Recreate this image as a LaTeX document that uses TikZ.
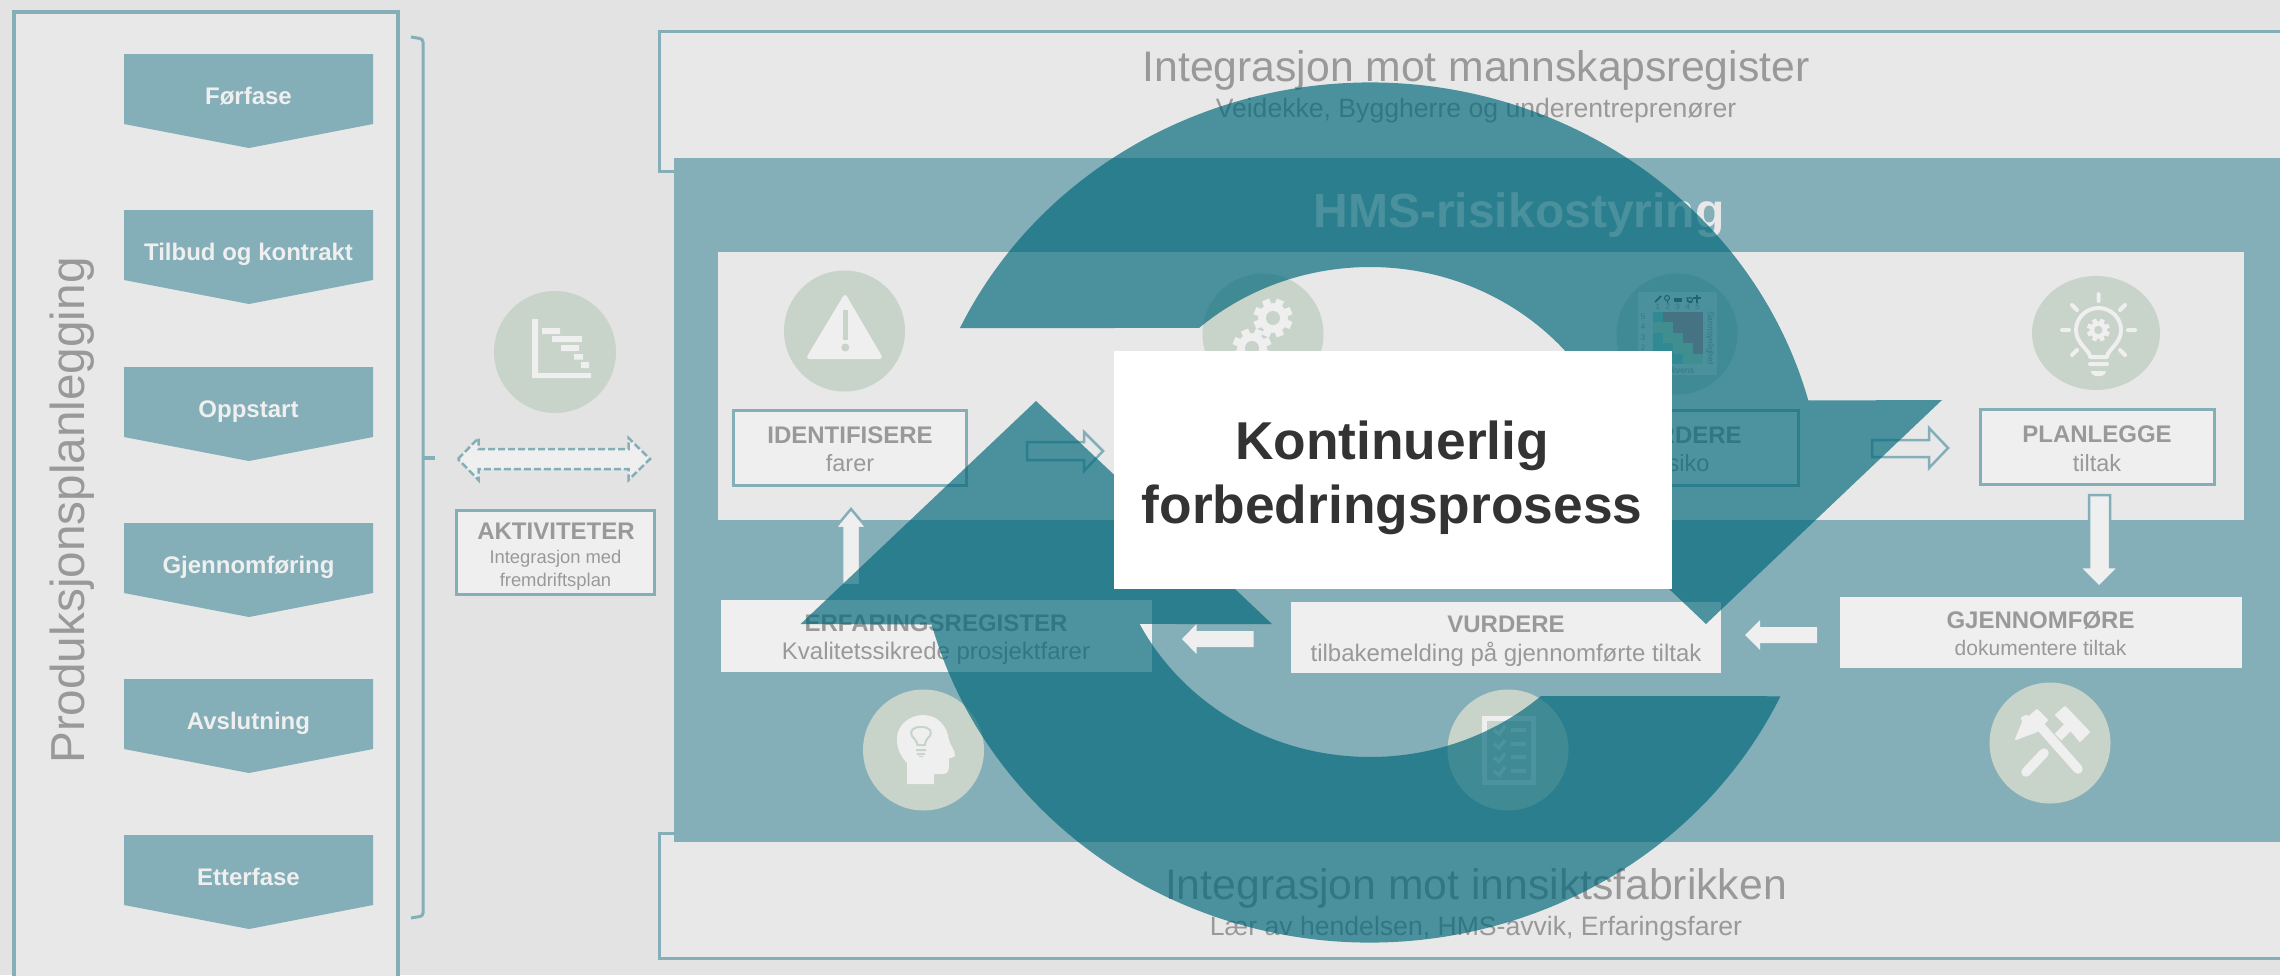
\documentclass[tikz,border=0pt]{standalone}
\usepackage{fontspec}
\setmainfont{Liberation Sans}
\definecolor{bgc}{HTML}{E3E3E3}
\definecolor{panelc}{HTML}{E8E8E8}
\definecolor{tealc}{HTML}{84AEB8}
\definecolor{iconc}{HTML}{C8D3CA}
\definecolor{lightc}{HTML}{EFEFEF}
\definecolor{greyt}{HTML}{999999}
\definecolor{darkt}{HTML}{333333}
\definecolor{cyclec}{HTML}{00687A}
\definecolor{mred}{HTML}{D88C9C}
\definecolor{myel}{HTML}{C8DFC0}
\definecolor{mgrn}{HTML}{96D0C8}
\newcommand\fs[1]{\fontsize{#1}{#1}\selectfont}
\newcommand\gearicon[4]{%
  \fill[lightc] (#1,#2) circle[radius=#3*0.76pt];
  \foreach \a in {0,45,...,315}{%
    \fill[lightc,rotate around={\a+22.5:(#1,#2)}] ({#1-0.2*#3},{#2}) rectangle ({#1+0.2*#3},{#2-#3});}
  \fill[#4] (#1,#2) circle[radius=#3*0.36pt];}
\tikzset{
  x=1pt,y=-1pt,
  tx/.style={anchor=base,inner sep=0pt,text=greyt},
  chev/.style={anchor=base,inner sep=0pt,text=lightc,font=\fs{24}\bfseries},
  outl/.style={draw=tealc,line width=3.5pt},
  hicon/.style={fill=iconc},
  cyc/.style={fill=cyclec,opacity=0.68},
  barrow/.style={fill=lightc,draw=tealc,line width=2.5pt,line join=miter},
  wline/.style={draw=lightc,line width=4pt,line cap=round,line join=round},
}
\begin{document}
\begin{tikzpicture}
\clip (0,0) rectangle (2280,975);
\fill[bgc] (0,0) rectangle (2280,975);

% left panel
\filldraw[panelc,outl] (14,12) rectangle (398,990);
\node[tx,rotate=90,anchor=base west,font=\fs{47.7}] (prod) at (84,764) {Produksjonsplanlegging};

% chevrons
\foreach \n/\y/\t in {1/54/Førfase,2/210/Tilbud og kontrakt,3/367/Oppstart,4/523/Gjennomføring,5/679/Avslutning,6/835/Etterfase}{%
  \fill[tealc] (124,\y) -- (373,\y) -- (373,\y+70) -- (249,\y+94) -- (124,\y+70) -- cycle;
  \node[chev] (ch\n) at (248.5,\y+50.5) {\t};
}

% bracket
\draw[tealc,line width=3pt,rounded corners=3pt] (411,37) -- (423,39) -- (423,916) -- (411,918);
\draw[tealc,line width=4pt] (423,458) -- (435,458);

% gantt icon
\fill[hicon] (555,352) circle[radius=61pt];
\fill[lightc] (532,319) rectangle (538,378) (532,373) rectangle (591,378);
\fill[lightc] (542,328) rectangle (560,334) (552,336) rectangle (582,342) (561,345) rectangle (579,351)
  (574,354) rectangle (583,359.5) (581,362) rectangle (589,368);

% dashed double arrow
\path[fill=lightc,draw=tealc,line width=2.5pt,dash pattern=on 7pt off 3pt]
  (458,459) -- (478.5,438) -- (478.5,449) -- (628.5,449) -- (628.5,438) -- (650,459)
  -- (628.5,480) -- (628.5,469) -- (478.5,469) -- (478.5,480) -- cycle;

% aktiviteter
\filldraw[fill=lightc,draw=tealc,line width=3pt] (456.5,510.5) rectangle (654.5,594.5);
\node[tx,font=\fs{24}\bfseries] (akt) at (556,539) {AKTIVITETER};
\node[tx,font=\fs{18.4}] (akt1) at (555.5,563) {Integrasjon med};
\node[tx,font=\fs{18.4}] (akt2) at (555.5,586) {fremdriftsplan};

% top and bottom integration boxes
\filldraw[panelc,outl] (659.5,31.5) rectangle (2300,171.5);
\filldraw[panelc,outl] (659.5,833.5) rectangle (2300,958.5);
\node[tx,font=\fs{42.7}] (t1) at (1476,81) {Integrasjon mot mannskapsregister};
\node[tx,font=\fs{26.6}] (t1s) at (1476,117) {Veidekke, Byggherre og underentreprenører};

% HMS block
\fill[tealc] (674,158) rectangle (2290,842);
\node[tx,font=\fs{42.7}] (t2) at (1476,899) {Integrasjon mot innsiktsfabrikken};
\node[tx,font=\fs{26.6}] (t2s) at (1476,935) {Lær av hendelsen, HMS-avvik, Erfaringsfarer};
\node[tx,text=panelc,font=\fs{48}\bfseries] (hms) at (1519,227) {HMS-risikostyring};
\fill[panelc] (718,252) rectangle (2244,520);

% warning icon
\fill[hicon] (844.5,331) circle[radius=60.5pt];
\filldraw[lightc,line width=4pt,line join=round] (845,297) -- (880,357) -- (809,357) -- cycle;
\fill[iconc] (842.8,310) rectangle (848,340);
\fill[iconc] (845.3,347.5) circle[radius=4pt];

% gears icon
\fill[hicon] (1263,334) circle[radius=60.5pt];
\gearicon{1273}{318}{19.5}{iconc}
\gearicon{1252}{348}{19.5}{iconc}

% risk matrix icon
\fill[hicon] (1677,334) circle[radius=60.5pt];
\fill[panelc] (1638,292) rectangle (1717,375);
\foreach \c/\r/\k in {0/0/mgrn,1/0/mred,2/0/mred,3/0/mred,4/0/mred,
                      0/1/myel,1/1/myel,2/1/mred,3/1/mred,4/1/mred,
                      0/2/mgrn,1/2/myel,2/2/myel,3/2/mred,4/2/mred,
                      0/3/mgrn,1/3/mgrn,2/3/myel,3/3/myel,4/3/mred,
                      0/4/mgrn,1/4/mgrn,2/4/mgrn,3/4/myel,4/4/myel}{%
  \fill[\k] ({1653+9.9*\c},{312+10.4*\r}) rectangle ({1653+9.9*(\c+1)},{312+10.4*(\r+1)});
}
\foreach \i in {1,...,5}{%
  \node[tx,anchor=center,text=darkt!50,font=\fs{8}] (mc\i) at ({1648+9.9*\i},307) {\i};
  \node[tx,anchor=center,text=darkt!50,font=\fs{8}] (mr\i) at (1643,{368-10.2*\i}) {\i};
}
\draw[darkt!80,line width=1.8pt] (1655,302) -- (1661,296);
\draw[darkt!80,line width=1pt] (1667,298) circle[radius=2.5pt] (1667,300) -- (1668,303);
\fill[darkt!80] (1674,298) rectangle (1682,302);
\draw[darkt!80,line width=1pt] (1687,297) -- (1687,301) -- (1691,301) -- (1692,303) (1690,300) circle[radius=2.5pt];
\draw[darkt!80,line width=1.2pt] (1697,295) -- (1697,303) (1693,298) -- (1701,298);
\node[tx,anchor=center,rotate=-90,text=darkt!50,font=\fs{8.5}] (msan) at (1710,338) {Sannsynlighet};
\node[tx,anchor=center,text=darkt!50,font=\fs{8.5}] (mkon) at (1671,370) {Konsekvens};

% idea icon
\fill[hicon] (2096,333) ellipse[x radius=64pt,y radius=57pt];
\draw[wline] (2090,357) .. controls (2090,350) and (2076,344) .. (2076,330)
  .. controls (2076,318) and (2086,308) .. (2098.5,308)
  .. controls (2111,308) and (2121,318) .. (2121,330)
  .. controls (2121,344) and (2107,350) .. (2107,357) -- cycle;
\gearicon{2098.3}{330}{11.5}{iconc}
\draw[wline] (2098.5,294) -- (2098.5,301) (2072,305) -- (2077,310) (2125,305) -- (2120,310)
  (2062,330) -- (2069,330) (2128,330) -- (2135,330) (2072,355) -- (2077,350) (2125,355) -- (2120,350)
  (2090,364) -- (2107,364);
\fill[lightc] (2091,371) .. controls (2091,378) and (2106,378) .. (2106,371) -- cycle;

% process boxes in light panel
\filldraw[fill=lightc,draw=tealc,line width=3pt] (733.5,410.5) rectangle (966.5,485);
\node[tx,font=\fs{24}\bfseries] (idt) at (850,443) {IDENTIFISERE};
\node[tx,font=\fs{23.5}] (ids) at (850,471) {farer};
\filldraw[fill=lightc,draw=tealc,line width=3pt] (1565.5,410.5) rectangle (1798.5,485);
\node[tx,font=\fs{24}\bfseries] (vrt) at (1683,443) {VURDERE};
\node[tx,font=\fs{23.5}] (vrs) at (1682,471) {risiko};
\filldraw[fill=lightc,draw=tealc,line width=3pt] (1980.5,409.5) rectangle (2214.5,484.5);
\node[tx,font=\fs{24}\bfseries] (plt) at (2097,442) {PLANLEGGE};
\node[tx,font=\fs{23.5}] (pls) at (2097,471) {tiltak};

% box arrows
\path[barrow,fill=panelc] (1027,442) -- (1084,442) -- (1084,432) -- (1103,451) -- (1084,471) -- (1084,460) -- (1027,460) -- cycle;
\path[barrow,fill=panelc] (1872,440) -- (1929,440) -- (1929,428) -- (1948,448) -- (1929,468) -- (1929,457) -- (1872,457) -- cycle;
\path[barrow] (2089,495) -- (2110,495) -- (2110,567) -- (2119,567) -- (2099,587) -- (2079,567) -- (2089,567) -- cycle;
\path[barrow] (842,585) -- (842,528) -- (835,528) -- (851,509) -- (867,528) -- (860,528) -- (860,585) -- cycle;
\fill[lightc] (1817,627) -- (1760,627) -- (1760,620) -- (1745,635) -- (1760,650) -- (1760,643) -- (1817,643) -- cycle;
\fill[lightc] (1253.5,631) -- (1196.5,631) -- (1196.5,624) -- (1182,639) -- (1196.5,654) -- (1196.5,647) -- (1253.5,647) -- cycle;

% lower boxes
\fill[lightc] (1840,597) rectangle (2242,668);
\node[tx,font=\fs{24}\bfseries] (gjt) at (2040.5,628) {GJENNOMFØRE};
\node[tx,font=\fs{21}] (gjs) at (2040.5,655) {dokumentere tiltak};
\fill[lightc] (1291,602) rectangle (1721,673);
\node[tx,font=\fs{24}\bfseries] (vut) at (1506,632) {VURDERE};
\node[tx,font=\fs{24}] (vus) at (1506,661) {tilbakemelding på gjennomførte tiltak};
\fill[lightc] (721,600) rectangle (1151.5,672);
\node[tx,font=\fs{24}\bfseries] (ert) at (936,631) {ERFARINGSREGISTER};
\node[tx,font=\fs{24}] (ers) at (936,659) {Kvalitetssikrede prosjektfarer};

% head icon
\fill[hicon] (923.5,750) circle[radius=60.5pt];
\fill[lightc] (907,784) -- (907,763) .. controls (896,752) and (897,740) .. (897,738)
  .. controls (897,726) and (909,715) .. (923,715)
  .. controls (937,715) and (947,725) .. (949,740)
  .. controls (950,745) and (955,750) .. (955,755) .. controls (955,758) and (950,758) .. (949,758)
  .. controls (949,765) and (950,774) .. (944,774) -- (934,774) -- (934,784) -- cycle;
\draw[iconc,line width=2pt] (917.5,745) .. controls (917,740) and (912,737) .. (912,736)
  .. controls (910,732) and (911,727) .. (921,727) .. controls (931,727) and (932,732) .. (930,736)
  .. controls (929,737) and (925,740) .. (925,745) -- cycle;
\fill[iconc] (916,749) rectangle (926,751) (917,753) rectangle (925,755) (919,756) rectangle (923,757);

% checklist icon
\fill[hicon] (1508,750) circle[radius=60.5pt];
\draw[draw=lightc,line width=5pt] (1484.5,718) rectangle (1533,782);
\foreach \yy in {730,744,757.5,771}{%
  \draw[draw=lightc,line width=3.5pt] (1494,\yy) -- (1499,{\yy+4}) -- (1505,{\yy-4});
  \fill[lightc] (1511,{\yy-2.5}) rectangle (1526,{\yy+1.5});
}

% hammers icon
\fill[hicon] (2050,743) circle[radius=60.5pt];
\draw[lightc,line width=9.5pt,line cap=round] (2040,726) -- (2078,769);
\draw[lightc,line width=9.5pt,line cap=round] (2026,772) -- (2044,753);
\draw[lightc,line width=9.5pt] (2058,737) -- (2069,726);
\filldraw[lightc,line width=2pt,line join=round] (2016,739) -- (2023,722) -- (2022,718) -- (2026,716) -- (2029,717) -- (2037,710) -- (2047,720) -- (2037,731) -- (2032,733) -- cycle;
\filldraw[lightc,line width=2pt,line join=round] (2056,715) -- (2065,707) -- (2089,732) -- (2080,741) -- (2070,729) -- cycle;

% cycle arrows
\fill[cyc] ({1370+454*cos(154.6)},{512.5-430*sin(154.6)})
  arc[start angle=154.6,end angle=15.1,x radius=454pt,y radius=430pt]
  -- (1942,400) -- (1706,624) -- (1470,400)
  -- ({1370+259*cos(27.2)},{512-245*sin(27.2)})
  arc[start angle=27.2,end angle=131.3,x radius=259pt,y radius=245pt] -- cycle;
\fill[cyc] ({1370+454*cos(-25.3)},{512.5-430*sin(-25.3)})
  arc[start angle=-25.3,end angle=-164.9,x radius=454pt,y radius=430pt]
  -- (800.6,624) -- (1036,401) -- (1272,624)
  -- ({1370+259*cos(-152.8)},{512-245*sin(-152.8)})
  arc[start angle=-152.8,end angle=-48.7,x radius=259pt,y radius=245pt] -- cycle;

% central white box
\fill[white] (1114,351) rectangle (1672,589);
\node[tx,text=darkt,font=\fs{53.3}\bfseries] (k1) at (1392,459) {Kontinuerlig};
\node[tx,text=darkt,font=\fs{53.3}\bfseries] (k2) at (1392,523) {forbedringsprosess};
\end{tikzpicture}
\end{document}
